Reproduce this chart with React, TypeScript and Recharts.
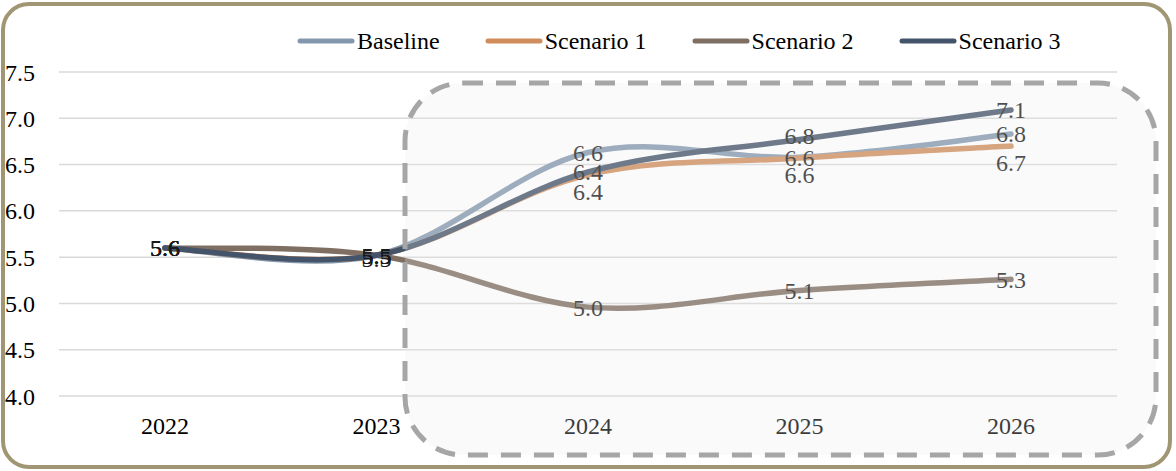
import React from "react";
import { CartesianGrid, LabelList, Legend, Line, LineChart, XAxis, YAxis } from "recharts";

const years = ["2022", "2023", "2024", "2025", "2026"];
const baseline = [5.6, 5.52, 6.63, 6.58, 6.83];
const scenario1 = [5.6, 5.52, 6.39, 6.57, 6.7];
const scenario2 = [5.6, 5.52, 4.96, 5.14, 5.26];
const scenario3 = [5.6, 5.52, 6.42, 6.77, 7.09];
const yTicks = [4, 4.5, 5, 5.5, 6, 6.5, 7, 7.5];

// labelDy: vertical shift of each data label from its point (Excel-style label placement)
const SERIES = [
  { key: "baseline", name: "Baseline", color: "#8398AE", labelDy: [0, 0, 0, 0, 0] },
  { key: "scenario1", name: "Scenario 1", color: "#D18C5C", labelDy: [0, 3, 17, 17, 17] },
  { key: "scenario2", name: "Scenario 2", color: "#7F6E62", labelDy: [0, 0, 0, 0, 0] },
  { key: "scenario3", name: "Scenario 3", color: "#44546A", labelDy: [0, 0, 0, -4, 0] },
];

const data = years.map((year, i) => ({
  year,
  baseline: baseline[i],
  scenario1: scenario1[i],
  scenario2: scenario2[i],
  scenario3: scenario3[i],
}));

const FONT = "'Liberation Serif', serif";

// Excel-style smoothed line: cubic bezier with control points at 1/6 of neighbour spread
function excelCurve(context: any) {
  let xs: number[] = [];
  let ys: number[] = [];
  return {
    areaStart() {},
    areaEnd() {},
    lineStart() {
      xs = [];
      ys = [];
    },
    lineEnd() {
      const n = xs.length;
      if (!n) return;
      context.moveTo(xs[0], ys[0]);
      for (let i = 0; i < n - 1; i++) {
        const p = Math.max(i - 1, 0);
        const q = Math.min(i + 2, n - 1);
        context.bezierCurveTo(
          xs[i] + (xs[i + 1] - xs[p]) / 6,
          ys[i] + (ys[i + 1] - ys[p]) / 6,
          xs[i + 1] - (xs[q] - xs[i]) / 6,
          ys[i + 1] - (ys[q] - ys[i]) / 6,
          xs[i + 1],
          ys[i + 1]
        );
      }
    },
    point(x: number, y: number) {
      xs.push(+x);
      ys.push(+y);
    },
  };
}

function renderLegend(props: any) {
  const items = props.payload || [];
  return (
    <div style={{ display: "flex", alignItems: "center", height: 28, paddingLeft: 297, gap: 45, fontFamily: FONT, fontSize: 24, color: "#000" }}>
      {items.map((it: any) => (
        <div key={it.value} style={{ display: "flex", alignItems: "center", whiteSpace: "nowrap" }}>
          <svg width={58} height={10} style={{ marginRight: 2 }}>
            <line x1={3} y1={5} x2={55} y2={5} stroke={it.color} strokeWidth={5} strokeLinecap="round" />
          </svg>
          <span>{it.value}</span>
        </div>
      ))}
    </div>
  );
}

function makeLabel(dys: number[]) {
  return (props: any) => {
    const { x, y, value, index } = props;
    if (value == null) return null;
    return (
      <text
        x={x}
        y={y + (dys[index] || 0)}
        dy="0.35em"
        textAnchor="middle"
        fill="#1a1a1a"
        fontSize={24}
        fontFamily={FONT}
      >
        {Number(value).toFixed(1)}
      </text>
    );
  };
}

export default function App() {
  return (
    <div style={{ position: "absolute", left: 0, top: 0, width: 1176, height: 471, background: "#fff" }}>
      <LineChart width={1176} height={471} data={data} margin={{ top: 72, right: 59, bottom: 0, left: 0 }}>
        <CartesianGrid vertical={false} stroke="#D9D9D9" strokeWidth={1.5} />
        <XAxis
          dataKey="year"
          axisLine={false}
          tickLine={false}
          height={75}
          tickMargin={15}
          padding={{ left: 106, right: 106 }}
          tick={{ fill: "#000", fontSize: 24, fontFamily: FONT }}
        />
        <YAxis
          domain={[4, 7.5]}
          ticks={yTicks}
          width={59}
          axisLine={false}
          tickLine={false}
          tickMargin={18}
          tickFormatter={(v: number) => v.toFixed(1)}
          tick={{ fill: "#000", fontSize: 24, fontFamily: FONT }}
        />
        <Legend verticalAlign="middle" align="center" layout="horizontal" content={renderLegend} wrapperStyle={{ top: 27, left: 0, width: 1176 }} />
        {SERIES.map((s) => (
          <Line
            key={s.key}
            dataKey={s.key}
            name={s.name}
            stroke={s.color}
            strokeWidth={5.5}
            strokeLinecap="round"
            type={excelCurve as any}
            dot={false}
            activeDot={false}
            isAnimationActive={false}
          >
            <LabelList dataKey={s.key} content={makeLabel(s.labelDy)} />
          </Line>
        ))}
      </LineChart>
      <svg width={1176} height={471} style={{ position: "absolute", left: 0, top: 0, pointerEvents: "none" }}>
        <rect x={405} y={83} width={751} height={372} rx={58} ry={58} fill="#EDEDED" fillOpacity={0.25} stroke="#A6A6A6" strokeWidth={5} strokeDasharray="20 13" />
      </svg>
      <div style={{ position: "absolute", left: 1, top: 2, width: 1171, height: 467, boxSizing: "border-box", border: "4px solid #A19673", borderRadius: 28, pointerEvents: "none" }} />
    </div>
  );
}
